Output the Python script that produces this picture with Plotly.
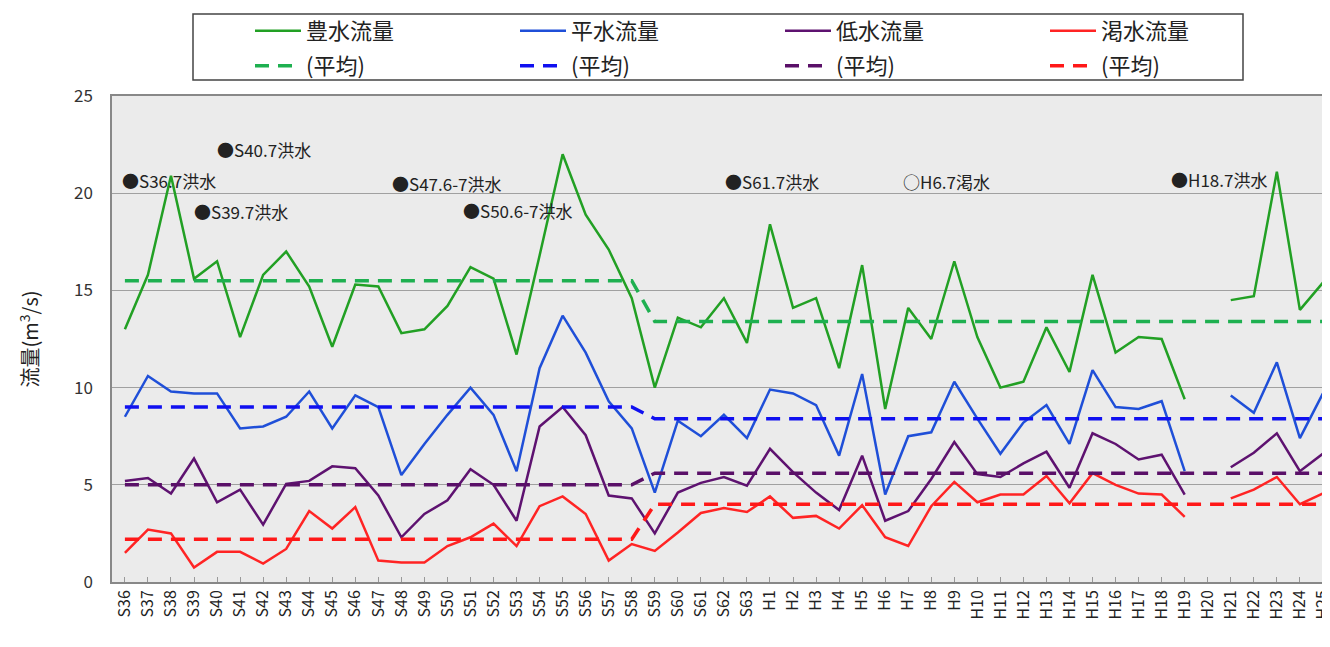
import plotly.graph_objects as go

# ---- data ----
categories = ["S36", "S37", "S38", "S39", "S40", "S41", "S42", "S43", "S44", "S45",
              "S46", "S47", "S48", "S49", "S50", "S51", "S52", "S53", "S54", "S55",
              "S56", "S57", "S58", "S59", "S60", "S61", "S62", "S63",
              "H1", "H2", "H3", "H4", "H5", "H6", "H7", "H8", "H9", "H10",
              "H11", "H12", "H13", "H14", "H15", "H16", "H17", "H18", "H19", "H20",
              "H21", "H22", "H23", "H24", "H25"]

hosui = [13.0, 15.8, 20.9, 15.6, 16.5, 12.6, 15.8, 17.0, 15.2, 12.1,
         15.3, 15.2, 12.8, 13.0, 14.2, 16.2, 15.6, 11.7, 16.8, 22.0,
         18.9, 17.1, 14.6, 10.0, 13.6, 13.1, 14.6, 12.3,
         18.4, 14.1, 14.6, 11.0, 16.3, 8.9, 14.1, 12.5, 16.5, 12.6,
         10.0, 10.3, 13.1, 10.8, 15.8, 11.8, 12.6, 12.5, 9.4, None,
         14.5, 14.7, 21.1, 14.0, 15.4]

heisui = [8.5, 10.6, 9.8, 9.7, 9.7, 7.9, 8.0, 8.5, 9.8, 7.9,
          9.6, 9.0, 5.5, 7.1, 8.6, 10.0, 8.6, 5.7, 11.0, 13.7,
          11.8, 9.3, 7.9, 4.6, 8.3, 7.5, 8.6, 7.4,
          9.9, 9.7, 9.1, 6.5, 10.7, 4.5, 7.5, 7.7, 10.3, 8.4,
          6.6, 8.2, 9.1, 7.1, 10.9, 9.0, 8.9, 9.3, 5.7, None,
          9.6, 8.7, 11.3, 7.4, 9.7]

teisui = [5.2, 5.35, 4.55, 6.35, 4.1, 4.75, 2.95, 5.05, 5.2, 5.95,
          5.85, 4.45, 2.3, 3.5, 4.2, 5.8, 5.0, 3.15, 8.0, 9.0,
          7.55, 4.45, 4.3, 2.5, 4.6, 5.1, 5.4, 4.95,
          6.85, 5.65, 4.6, 3.7, 6.5, 3.15, 3.65, 5.3, 7.2, 5.55,
          5.4, 6.1, 6.7, 4.85, 7.65, 7.1, 6.3, 6.55, 4.5, None,
          5.9, 6.65, 7.65, 5.7, 6.6]

kassui = [1.5, 2.7, 2.5, 0.75, 1.55, 1.55, 0.95, 1.7, 3.65, 2.75,
          3.85, 1.1, 1.0, 1.0, 1.85, 2.3, 3.0, 1.85, 3.9, 4.4,
          3.5, 1.1, 1.95, 1.6, 2.55, 3.55, 3.8, 3.6,
          4.4, 3.3, 3.4, 2.75, 3.95, 2.3, 1.85, 3.9, 5.15, 4.1,
          4.5, 4.5, 5.45, 4.05, 5.6, 5.0, 4.55, 4.5, 3.35, None,
          4.3, 4.75, 5.4, 4.0, 4.55]

# period averages (S36-S58, S59-H25)
avg_x = ["S36", "S58", "S59", "H25"]
hosui_avg = [15.5, 15.5, 13.4, 13.4]
heisui_avg = [9.0, 9.0, 8.4, 8.4]
teisui_avg = [5.0, 5.0, 5.6, 5.6]
kassui_avg = [2.2, 2.2, 4.0, 4.0]

series_names = ["豊水流量", "平水流量", "低水流量", "渇水流量"]
avg_name = "(平均)"

event_labels = ["●S36.7洪水", "●S40.7洪水", "●S39.7洪水", "●S47.6-7洪水",
                "●S50.6-7洪水", "●S61.7洪水", "○H6.7渇水", "●H18.7洪水"]

# ---- styling ----
solid_colors = ["#22a024", "#1f4fd8", "#5e1270", "#ff2424"]
dash_colors = ["#1eb050", "#1010f0", "#5a1068", "#ff1818"]
FONT = "Noto Sans CJK JP, Noto Sans, sans-serif"

# page body has an 8px default margin, so the figure is drawn 8px in/down
W, H = 1322, 639
L, T, R, B = 104, 88, 2, 65
PW, PH = W - L - R, H - T - B

fig = go.Figure()
for name, vals, col in zip(series_names, [hosui, heisui, teisui, kassui], solid_colors):
    fig.add_trace(go.Scatter(x=categories, y=vals, mode="lines", name=name,
                             line=dict(color=col, width=2.5), connectgaps=False,
                             legend="legend"))
for vals, col in zip([hosui_avg, heisui_avg, teisui_avg, kassui_avg], dash_colors):
    fig.add_trace(go.Scatter(x=avg_x, y=vals, mode="lines", name=avg_name,
                             line=dict(color=col, width=3.5, dash="14px,9px"),
                             legend="legend2"))

# event annotation positions (category index, value)
event_pos = [(-0.21, 20.65), (3.9, 22.25), (2.9, 19.05), (11.5, 20.5),
             (14.6, 19.1), (25.95, 20.6), (33.7, 20.6), (45.3, 20.7)]
annotations = []
for lab, (xi, yv) in zip(event_labels, event_pos):
    annotations.append(dict(x=xi, y=yv, xref="x", yref="y", text=lab, showarrow=False,
                            xanchor="left", yanchor="middle",
                            font=dict(family=FONT, size=17, color="#222")))

legend_common = dict(orientation="h", xref="container", yref="container",
                     xanchor="left", yanchor="middle", entrywidth=204,
                     entrywidthmode="pixels", itemwidth=46,
                     bgcolor="rgba(0,0,0,0)", borderwidth=0,
                     font=dict(family=FONT, size=22, color="#222"))

fig.update_layout(
    width=W, height=H,
    margin=dict(l=L, r=R, t=T, b=B, autoexpand=False),
    paper_bgcolor="white", plot_bgcolor="#ebebeb",
    font=dict(family=FONT, color="#333"),
    showlegend=True,
    legend=dict(x=242 / W, y=1 - 23 / H, **legend_common),
    legend2=dict(x=242 / W, y=1 - 58 / H, **legend_common),
    annotations=annotations,
    shapes=[dict(type="rect", xref="paper", yref="paper",
                 x0=(185 - L) / PW, x1=(1235 - L) / PW,
                 y0=(H - B - 72) / PH, y1=(H - B - 6) / PH,
                 line=dict(color="#444", width=1.5), fillcolor="rgba(0,0,0,0)")],
    xaxis=dict(type="category", categoryorder="array", categoryarray=categories,
               range=[-0.56, 52.22],
               tickangle=-90, ticks="inside", ticklen=5, tickcolor="#999",
               showline=True, linecolor="#888", linewidth=1.5, mirror=True,
               showgrid=False, tickfont=dict(family=FONT, size=16, color="#222")),
    yaxis=dict(range=[0, 25], dtick=5, showgrid=True, gridcolor="#a0a0a0", gridwidth=1,
               showline=True, linecolor="#888", linewidth=1.5, mirror=True,
               zeroline=False, ticks="", ticklabelstandoff=14,
               tickfont=dict(family=FONT, size=17, color="#333"),
               title=dict(text="流量(m<sup>3</sup>/s)", standoff=30,
                          font=dict(family=FONT, size=20, color="#222"))),
)

fig.write_html("out.html")
